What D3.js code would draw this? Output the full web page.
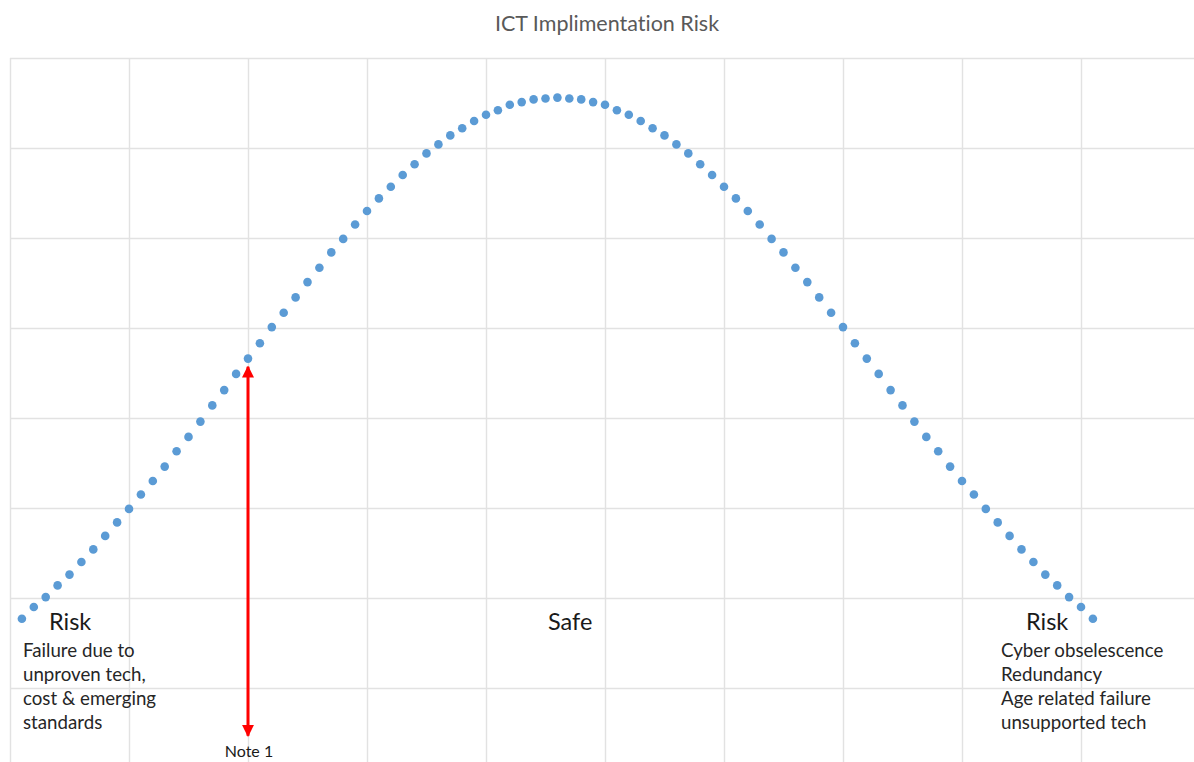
<!DOCTYPE html>
<html>
<head>
<meta charset="utf-8">
<script src="https://cdn.jsdelivr.net/npm/d3@7"></script>
<style>
  body { margin: 0; background: #fff; }
  svg { display: block; }
  text { font-variant-ligatures: none; }
</style>
</head>
<body>
<svg id="chart"></svg>
<script>
// dot index along the x axis (1..91) and the risk level
const pointX = d3.range(1, 92);
const riskLeft = [17.7, 19.0, 20.1, 21.4, 22.6, 24.0, 25.4, 26.9, 28.4, 29.9,
    31.5, 33.0, 34.6, 36.3, 37.9, 39.6, 41.4, 43.1, 44.9, 46.6,
    48.3, 50.1, 51.7, 53.4, 55.1, 56.7, 58.4, 59.9, 61.5, 63.0,
    64.4, 65.7, 67.0, 68.2, 69.4, 70.4, 71.4, 72.2, 73.0, 73.7,
    74.2, 74.8, 75.1, 75.4, 75.5, 75.6];
const riskRight = [75.5, 75.4, 75.1, 74.8, 74.2, 73.7, 73.0, 72.2, 71.4, 70.4,
    69.4, 68.2, 67.0, 65.7, 64.4, 63.0, 61.5, 59.9, 58.4, 56.7,
    55.1, 53.4, 51.7, 50.1, 48.3, 46.6, 44.9, 43.1, 41.4, 39.6,
    37.9, 36.3, 34.6, 33.0, 31.5, 29.9, 28.4, 26.9, 25.4, 24.0,
    22.6, 21.4, 20.1, 19.0, 17.7];
const riskY = riskLeft.concat(riskRight);

const xTicks = d3.range(0, 101, 10);
const yTicks = d3.range(0, 81, 10);

const title = 'ICT Implimentation Risk';
const zoneLabels = ['Risk', 'Safe', 'Risk'];
const leftNotes = ['Failure due to', 'unproven tech,', 'cost & emerging', 'standards'];
const rightNotes = ['Cyber obselescence', 'Redundancy', 'Age related failure', 'unsupported tech'];
const noteLabel = 'Note 1';
const noteX = 20;
const noteRange = [45.7, 4.7];

const width = 1194;
const height = 762;
const font = 'Lato, "Open Sans", sans-serif';

const svg = d3.select('#chart')
    .attr('width', width)
    .attr('height', height)
    .attr('viewBox', [0, 0, width, height]);

const x = d3.scaleLinear().domain([0, 100]).range([10, 1200]);
const y = d3.scaleLinear().domain([0, 80]).range([778, 58]);

// gridlines
svg.append('g')
    .attr('transform', `translate(0,${y(0)})`)
    .call(d3.axisBottom(x).tickValues(xTicks).tickSize(-(y(0) - y(80))).tickFormat(''))
    .call(g => g.select('.domain').remove())
    .call(g => g.selectAll('line').attr('stroke', '#e2e2e2').attr('stroke-width', 1.4));

svg.append('g')
    .attr('transform', `translate(${x(0)},0)`)
    .call(d3.axisLeft(y).tickValues(yTicks).tickSize(-(x(100) - x(0))).tickFormat(''))
    .call(g => g.select('.domain').remove())
    .call(g => g.selectAll('line').attr('stroke', '#e2e2e2').attr('stroke-width', 1.4));

// title
svg.append('text')
    .attr('x', 607)
    .attr('y', 31)
    .attr('text-anchor', 'middle')
    .attr('font-family', font)
    .attr('font-size', 21.5)
    .attr('fill', '#595959')
    .text(title);

// dotted risk curve
svg.append('g')
    .selectAll('circle')
    .data(pointX)
    .join('circle')
    .attr('cx', d => x(d))
    .attr('cy', (d, i) => y(riskY[i]))
    .attr('r', 4.3)
    .attr('fill', '#5b9bd5');

// zone labels
const zonePos = [49, 548, 1026];
svg.append('g')
    .selectAll('text')
    .data(zoneLabels)
    .join('text')
    .attr('x', (d, i) => zonePos[i])
    .attr('y', 630)
    .attr('font-family', font)
    .attr('font-size', 23.5)
    .attr('fill', '#1a1a1a')
    .text(d => d);

function noteBlock(lines, left) {
    svg.append('g')
        .selectAll('text')
        .data(lines)
        .join('text')
        .attr('x', left)
        .attr('y', (d, i) => 657 + i * 24)
        .attr('font-family', font)
        .attr('font-size', 18.7)
        .attr('fill', '#262626')
        .text(d => d);
}
noteBlock(leftNotes, 23);
noteBlock(rightNotes, 1001);

// red double arrow
const defs = svg.append('defs');
defs.append('marker')
    .attr('id', 'head')
    .attr('viewBox', '0 0 10 10')
    .attr('refX', 9)
    .attr('refY', 5)
    .attr('markerWidth', 4)
    .attr('markerHeight', 4)
    .attr('markerUnits', 'strokeWidth')
    .attr('orient', 'auto-start-reverse')
    .append('path')
    .attr('d', 'M0,0L10,5L0,10Z')
    .attr('fill', '#ff0000');

svg.append('line')
    .attr('x1', x(noteX))
    .attr('x2', x(noteX))
    .attr('y1', y(noteRange[0]))
    .attr('y2', y(noteRange[1]))
    .attr('stroke', '#ff0000')
    .attr('stroke-width', 3)
    .attr('marker-start', 'url(#head)')
    .attr('marker-end', 'url(#head)');

svg.append('text')
    .attr('x', x(noteX) + 1)
    .attr('y', 757)
    .attr('text-anchor', 'middle')
    .attr('font-family', font)
    .attr('font-size', 16)
    .attr('fill', '#1a1a1a')
    .text(noteLabel);
</script>
</body>
</html>
